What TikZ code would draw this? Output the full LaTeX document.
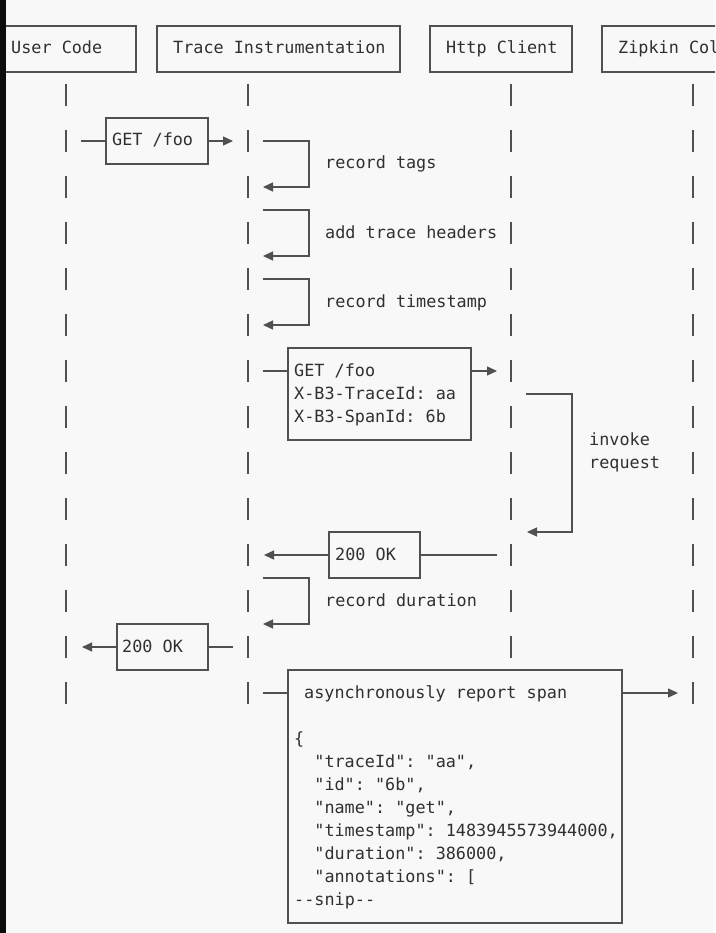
\documentclass[tikz,border=0pt]{standalone}
\usepackage{fontspec}
\setmonofont{DejaVu Sans Mono}
\usetikzlibrary{arrows.meta}
\definecolor{bg}{HTML}{F8F8F8}
\definecolor{ln}{HTML}{505050}
\definecolor{tx}{HTML}{303030}
\begin{document}
\begin{tikzpicture}[x=1pt,y=-1pt,
  txt/.style={font=\ttfamily\fontsize{16.8}{20}\selectfont, text=tx, inner sep=0pt, anchor=base west},
  boxn/.style={draw=ln, line width=1.3pt, inner sep=0pt, outer sep=0pt, anchor=north west},
  conn/.style={draw=ln, line width=1.3pt},
  arr/.style={conn, -{Triangle[length=10pt,width=9pt]}},
  lifebar/.style={draw=ln, line width=1.3pt}]
\clip (0,0) rectangle (715,933);
\fill[bg] (0,0) rectangle (715,933);

% header boxes
\node[boxn, minimum width=146pt, minimum height=46pt] (hUser) at (-10,26) {};
\node[txt] (tUser) at (11,54) {User Code};
\node[boxn, minimum width=243pt, minimum height=46pt] (hTrace) at (157,26) {};
\node[txt] (tTrace) at (173,54) {Trace Instrumentation};
\node[boxn, minimum width=142pt, minimum height=46pt] (hHttp) at (430,26) {};
\node[txt] (tHttp) at (446,54) {Http Client};
\node[boxn, minimum width=194pt, minimum height=46pt] (hZip) at (602,26) {};
\node[txt] (tZip) at (618,54) {Zipkin Col};

% lifeline bars
\foreach \x in {66,248,693}
  \foreach \r in {2,4,...,28}
    \draw[lifebar] (\x,{49+23*\r-11}) -- ++(0,22);
\foreach \r in {2,4,...,26}
  \draw[lifebar] (511,{49+23*\r-11}) -- ++(0,22);

% GET /foo (user -> trace)
\node[boxn, minimum width=102pt, minimum height=46pt] (get1) at (106,118) {};
\node[txt] (tget1) at (112,146) {GET /foo};
\coordinate (g1s) at (81,141);
\coordinate (g1e) at (233,141);
\draw[conn] (g1s) -- (g1s -| get1.west);
\draw[arr] (g1e -| get1.east) -- (g1e);

% record tags
\coordinate (rt1) at (263,141);
\coordinate (rt2) at (309,141);
\coordinate (rt3) at (309,187);
\coordinate (rt4) at (263,187);
\draw[arr] (rt1) -- (rt2) -- (rt3) -- (rt4);
\node[txt] (trt) at (325,169) {record tags};

% add trace headers
\coordinate (ah1) at (263,210);
\coordinate (ah2) at (309,210);
\coordinate (ah3) at (309,256);
\coordinate (ah4) at (263,256);
\draw[arr] (ah1) -- (ah2) -- (ah3) -- (ah4);
\node[txt] (tah) at (325,238) {add trace headers};

% record timestamp
\coordinate (ts1) at (263,279);
\coordinate (ts2) at (309,279);
\coordinate (ts3) at (309,325);
\coordinate (ts4) at (263,325);
\draw[arr] (ts1) -- (ts2) -- (ts3) -- (ts4);
\node[txt] (tts) at (325,307) {record timestamp};

% GET /foo with headers (trace -> http)
\node[boxn, minimum width=183pt, minimum height=92pt] (get2) at (288,348) {};
\node[txt] (tg2a) at (294,376) {GET /foo};
\node[txt] (tg2b) at (294,399) {X-B3-TraceId: aa};
\node[txt] (tg2c) at (294,422) {X-B3-SpanId: 6b};
\coordinate (g2s) at (263,371);
\coordinate (g2e) at (497,371);
\draw[conn] (g2s) -- (g2s -| get2.west);
\draw[arr] (g2e -| get2.east) -- (g2e);

% invoke request
\coordinate (iv1) at (526,394);
\coordinate (iv2) at (572,394);
\coordinate (iv3) at (572,532);
\coordinate (iv4) at (527,532);
\draw[arr] (iv1) -- (iv2) -- (iv3) -- (iv4);
\node[txt] (tiv1) at (589,445) {invoke};
\node[txt] (tiv2) at (589,468) {request};

% 200 OK (http -> trace)
\node[boxn, minimum width=91pt, minimum height=46pt] (ok1) at (329,532) {};
\node[txt] (tok1) at (335,560) {200 OK};
\coordinate (o1s) at (497,555);
\coordinate (o1e) at (264,555);
\draw[conn] (o1s) -- (o1s -| ok1.east);
\draw[arr] (o1e -| ok1.west) -- (o1e);

% record duration
\coordinate (rd1) at (263,578);
\coordinate (rd2) at (309,578);
\coordinate (rd3) at (309,624);
\coordinate (rd4) at (263,624);
\draw[arr] (rd1) -- (rd2) -- (rd3) -- (rd4);
\node[txt] (trd) at (325,606) {record duration};

% 200 OK (trace -> user)
\node[boxn, minimum width=91pt, minimum height=46pt] (ok2) at (117,624) {};
\node[txt] (tok2) at (122,652) {200 OK};
\coordinate (o2s) at (233,647);
\coordinate (o2e) at (82,647);
\draw[conn] (o2s) -- (o2s -| ok2.east);
\draw[arr] (o2e -| ok2.west) -- (o2e);

% asynchronously report span
\node[boxn, minimum width=334pt, minimum height=253pt] (rep) at (288,670) {};
\node[txt] (trep) at (304,698) {asynchronously report span};
\coordinate (rps) at (263,693);
\coordinate (rpe) at (678,693);
\draw[conn] (rps) -- (rps -| rep.west);
\draw[arr] (rpe -| rep.east) -- (rpe);
\node[txt] (j0) at (294,744) {\{};
\node[txt] (j1) at (314.2,767) {"traceId": "aa",};
\node[txt] (j2) at (314.2,790) {"id": "6b",};
\node[txt] (j3) at (314.2,813) {"name": "get",};
\node[txt] (j4) at (314.2,836) {"timestamp": 1483945573944000,};
\node[txt] (j5) at (314.2,859) {"duration": 386000,};
\node[txt] (j6) at (314.2,882) {"annotations": [};
\node[txt] (j7) at (294,905) {--snip--};

% dark strip at the left edge
\fill[black!95] (0,0) rectangle (6,933);
\end{tikzpicture}
\end{document}
